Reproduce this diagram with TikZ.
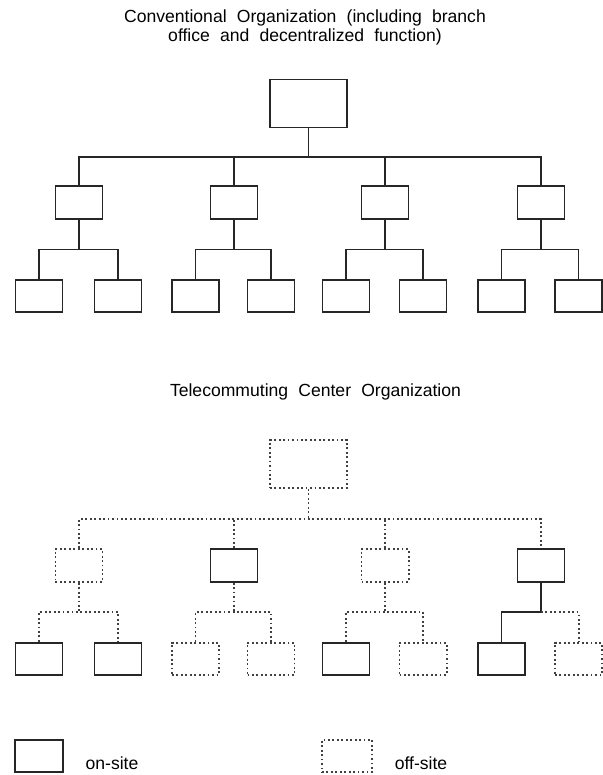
\documentclass[tikz,border=0pt]{standalone}
\usepackage{fontspec}
\setmainfont{Liberation Sans}

\tikzset{
  onsite/.style={line width=1.6pt, draw=black!85},
  offsite/.style={line width=1.7pt, draw=black!75, dash pattern=on 1.6pt off 2.2pt},
  unitbox/.style={minimum width=1.41cm, minimum height=0.975cm, inner sep=0pt},
  headbox/.style={minimum width=2.31cm, minimum height=1.44cm, inner sep=0pt},
  caption/.style={font={\fontsize{15}{15.7}\selectfont\spaceskip=0.58em plus 0.1em\relax}, align=center},
  keytext/.style={font={\fontsize{15}{15.7}\selectfont}}
}

\begin{document}
\begin{tikzpicture}[x=0.03cm,y=-0.03cm]
\useasboundingbox (0,0) rectangle (602,775);

% conventional organization
\node[caption] (conv) at (305,27.5) {Conventional Organization (including branch\\office and decentralized function)};
\node[headbox, onsite] (ctop) at (308.5,103.5) {};
\coordinate (cj) at (308.5,157);
\foreach \i/\x/\l/\r in {1/79/39/118, 2/234/195.5/271, 3/385/346/423, 4/541/501.5/578.5} {
  \node[unitbox, onsite] (c\i) at (\x,202.5) {};
  \node[unitbox, onsite] (cl\i) at (\l,296) {};
  \node[unitbox, onsite] (cr\i) at (\r,296) {};
  \coordinate (cs\i) at (\x,249.5);
  \draw[onsite] (c\i.south) -- (cs\i);
  \draw[onsite] (cl\i.north) |- (cs\i) -| (cr\i.north);
}
\draw[onsite] (ctop.south) -- (cj);
\draw[onsite] (c1.north) |- (cj) -| (c4.north);
\draw[onsite] (c2.north) -- (c2.north |- cj);
\draw[onsite] (c3.north) -- (c3.north |- cj);

% telecommuting center organization
\node[caption] (tele) at (315.5,392) {Telecommuting Center Organization};
\node[headbox, offsite] (ttop) at (308.5,464) {};
\coordinate (tj) at (308.5,519);

\node[unitbox, offsite] (t1) at (79,565.5) {};
\node[unitbox, onsite] (t2) at (234,565.5) {};
\node[unitbox, offsite] (t3) at (385,565.5) {};
\node[unitbox, onsite] (t4) at (541,565.5) {};

\node[unitbox, onsite] (tl1) at (39,659) {};
\node[unitbox, onsite] (tr1) at (118,659) {};
\node[unitbox, offsite] (tl2) at (195.5,659) {};
\node[unitbox, offsite] (tr2) at (271,659) {};
\node[unitbox, onsite] (tl3) at (346,659) {};
\node[unitbox, offsite] (tr3) at (423,659) {};
\node[unitbox, onsite] (tl4) at (501.5,659) {};
\node[unitbox, offsite] (tr4) at (578.5,659) {};

\coordinate (ts1) at (79,612);
\coordinate (ts2) at (234,612);
\coordinate (ts3) at (385,612);
\coordinate (ts4) at (541,612);

\draw[offsite] (ttop.south) -- (tj);
\draw[offsite] (t1.north) |- (tj) -| (t4.north);
\draw[offsite] (t2.north) -- (t2.north |- tj);
\draw[offsite] (t3.north) -- (t3.north |- tj);

\draw[offsite] (t1.south) -- (ts1);
\draw[offsite] (tl1.north) |- (ts1) -| (tr1.north);
\draw[offsite] (t2.south) -- (ts2);
\draw[offsite] (tl2.north) |- (ts2) -| (tr2.north);
\draw[offsite] (t3.south) -- (ts3);
\draw[offsite] (tl3.north) |- (ts3) -| (tr3.north);
\draw[onsite] (t4.south) -- (ts4) -| (tl4.north);
\draw[offsite] (ts4) -| (tr4.north);

% key
\node[unitbox, onsite, minimum width=1.46cm] (keyon) at (39,756) {};
\node[keytext] (keyonlabel) at (112,763) {on-site};
\node[unitbox, offsite, minimum width=1.5cm] (keyoff) at (347,756) {};
\node[keytext] (keyofflabel) at (421,763) {off-site};
\end{tikzpicture}
\end{document}
